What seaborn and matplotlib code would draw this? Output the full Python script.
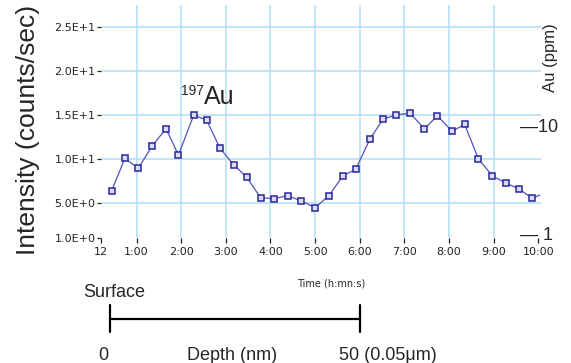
import matplotlib
matplotlib.use("Agg")
import matplotlib.pyplot as plt
import seaborn as sns
import pandas as pd

# ---- data ----
time_min = [0.44, 0.74, 1.04, 1.35, 1.66, 1.94, 2.28, 2.57, 2.87, 3.18, 3.47,
            3.78, 4.07, 4.39, 4.69, 5.00, 5.31, 5.62, 5.91, 6.23, 6.52, 6.82,
            7.13, 7.45, 7.74, 8.07, 8.35, 8.66, 8.97, 9.27, 9.56, 9.87, 10.03]
intensity = [6.36, 10.08, 8.94, 11.48, 13.44, 10.45, 14.97, 14.43, 11.22, 9.32,
             7.92, 5.60, 5.49, 5.83, 5.23, 4.47, 5.83, 8.07, 8.83, 12.27, 14.51,
             15.03, 15.19, 13.44, 14.92, 13.15, 13.94, 10.00, 8.10, 7.27, 6.63,
             5.53, 5.90]
x_tick_pos = [0.2, 1, 2, 3, 4, 5, 6, 7, 8, 9, 10]
x_tick_labels = ["12", "1:00", "2:00", "3:00", "4:00", "5:00", "6:00",
                 "7:00", "8:00", "9:00", "10:00"]
y_tick_pos = [1, 5, 10, 15, 20, 25]
y_tick_labels = ["1.0E+0", "5.0E+0", "1.0E+1", "1.5E+1", "2.0E+1", "2.5E+1"]

df = pd.DataFrame({"time": time_min, "intensity": intensity})

sns.set_style("white")
plt.rcParams["font.family"] = ["Liberation Sans", "DejaVu Sans"]

W, H = 571, 363
fig = plt.figure(figsize=(W / 100, H / 100), dpi=100)
ax = fig.add_axes([100.8 / W, 1 - 238.2 / H, 439.7 / W, 233.2 / H])

n = len(df)
sns.lineplot(data=df, x="time", y="intensity", ax=ax, sort=False,
             color="#5252bd", linewidth=0.9, marker="s", markersize=4.0,
             markerfacecolor="#dcdcf4", markeredgecolor="#27279c",
             markeredgewidth=1.1, markevery=list(range(n - 1)), zorder=3)

ax.set_xlim(0.2, 10.05)
ax.set_ylim(1.0, 27.5)
ax.set_xticks(x_tick_pos)
ax.set_xticklabels(x_tick_labels)
ax.set_yticks(y_tick_pos)
ax.set_yticklabels(y_tick_labels)
for lab in ax.get_xticklabels() + ax.get_yticklabels():
    lab.set_fontfamily("DejaVu Sans")
    lab.set_fontsize(8)
    lab.set_color("#222222")
ax.tick_params(axis="x", direction="out", length=3.5, width=0.9, pad=2.5,
               colors="#222222", bottom=True)
ax.tick_params(axis="y", direction="out", length=3.2, width=0.9, pad=0.5,
               colors="#222222", left=True)
ax.set_xlabel("")
ax.set_ylabel("")
for s in ax.spines.values():
    s.set_visible(False)

ax.grid(True, color="#b3ddf5", linewidth=1.1)
ax.set_axisbelow(True)
xg = ax.get_xgridlines()
xg[0].set_visible(False)
xg[-1].set_visible(False)
ax.get_ygridlines()[0].set_visible(False)


def fx(x):
    return x / W


def fy(y):
    return 1 - y / H


# axis titles / annotations
fig.text(fx(28.5), fy(130), "Intensity (counts/sec)", rotation=90,
         ha="center", va="center", fontsize=19)
fig.text(fx(551), fy(58), "Au (ppm)", rotation=90, ha="center", va="center",
         fontsize=12)
fig.text(fx(520), fy(132), "\u201410", ha="left", va="baseline", fontsize=13)
fig.text(fx(520), fy(240), "\u2014 1", ha="left", va="baseline", fontsize=13)
fig.text(fx(180.5), fy(95), "197", ha="left", va="baseline", fontsize=10)
fig.text(fx(204), fy(104), "Au", ha="left", va="baseline", fontsize=18)
fig.text(fx(331), fy(286), "Time (h:mn:s)", ha="center", va="baseline",
         fontsize=7, family="DejaVu Sans")

# depth scale below
fig.text(fx(83), fy(297), "Surface", ha="left", va="baseline", fontsize=13)
fig.text(fx(103.5), fy(360), "0", ha="center", va="baseline", fontsize=13)
fig.text(fx(232), fy(360), "Depth (nm)", ha="center", va="baseline", fontsize=13)
fig.text(fx(388), fy(360), "50 (0.05\u03bcm)", ha="center", va="baseline",
         fontsize=13)
for xs, ys in [([110, 110], [305, 332]), ([110, 360], [319, 319]),
               ([360, 360], [305, 332])]:
    fig.add_artist(plt.Line2D([fx(v) for v in xs], [fy(v) for v in ys],
                              color="black", linewidth=1.6,
                              transform=fig.transFigure))

fig.savefig("out.png", dpi=100)
